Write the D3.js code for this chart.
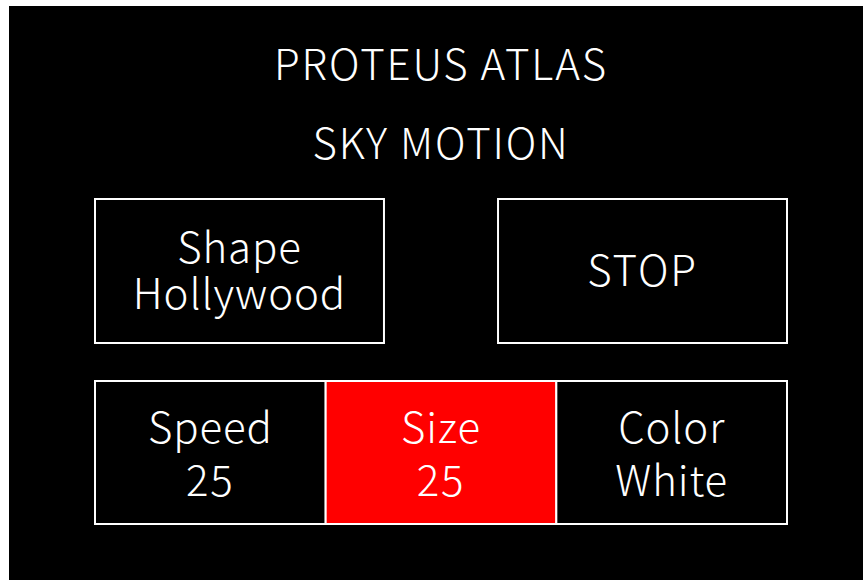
<!DOCTYPE html>
<html>
<head>
<meta charset="utf-8">
<script src="https://cdn.jsdelivr.net/npm/d3@7"></script>
<style>
  html, body { margin: 0; padding: 0; background: #fff; }
  svg text { font-family: "Noto Sans CJK JP", "Noto Sans", sans-serif; font-weight: 300; fill: #fff; }
</style>
</head>
<body>
<div id="screen"></div>
<script>
// screen content
var titles = ["PROTEUS ATLAS", "SKY MOTION"];
var topButtons = [
  { id: "shape", lines: ["Shape", "Hollywood"] },
  { id: "stop", lines: ["STOP"] }
];
var bottomCells = [
  { id: "speed", lines: ["Speed", "25"], active: false },
  { id: "size", lines: ["Size", "25"], active: true },
  { id: "color", lines: ["Color", "White"], active: false }
];

var W = 863, H = 580;
var fontSize = 42;

// caps look a bit wider on the device font
function spacing(t) {
  return t === t.toUpperCase() ? 1.8 : 0.9;
}

// one <text> per button, one <tspan> per line
function addLabel(g, lines, cx, firstY, lh) {
  var txt = g.append("text")
    .attr("text-anchor", "middle")
    .attr("font-size", fontSize);
  lines.forEach(function (t, i) {
    txt.append("tspan")
      .attr("x", cx)
      .attr("y", firstY + i * lh)
      .attr("letter-spacing", spacing(t))
      .text(t);
  });
}

var svg = d3.select("#screen")
  .append("svg")
  .attr("width", W)
  .attr("height", H);

// black panel
svg.append("rect")
  .attr("x", 9)
  .attr("y", 6)
  .attr("width", W - 9)
  .attr("height", H - 6)
  .attr("fill", "#000");

// titles
var yTitle = d3.scalePoint().domain(titles).range([80, 159]);
svg.selectAll("text.title")
  .data(titles)
  .join("text")
  .attr("class", "title")
  .attr("x", 441)
  .attr("y", d => yTitle(d))
  .attr("text-anchor", "middle")
  .attr("font-size", fontSize)
  .attr("letter-spacing", d => spacing(d))
  .text(d => d);

// top buttons
var xTop = d3.scaleBand()
  .domain(topButtons.map(d => d.id))
  .range([95, 787])
  .paddingInner(0.283);

var topG = svg.selectAll("g.top")
  .data(topButtons)
  .join("g")
  .attr("class", "top")
  .attr("transform", d => "translate(" + xTop(d.id) + ",199)");

topG.append("rect")
  .attr("width", xTop.bandwidth())
  .attr("height", 144)
  .attr("fill", "#000")
  .attr("stroke", "#fff")
  .attr("stroke-width", 2);

topG.each(function (d) {
  var n = d.lines.length;
  var lh = 46;
  addLabel(d3.select(this), d.lines, xTop.bandwidth() / 2, 87 - (n - 1) * lh / 2, lh);
});

// bottom cells
var xBot = d3.scaleBand()
  .domain(bottomCells.map(d => d.id))
  .range([95, 787])
  .padding(0);

var botG = svg.selectAll("g.bot")
  .data(bottomCells)
  .join("g")
  .attr("class", "bot")
  .attr("transform", d => "translate(" + xBot(d.id) + ",381)");

botG.append("rect")
  .attr("width", xBot.bandwidth())
  .attr("height", 143)
  .attr("fill", d => d.active ? "#ff0000" : "#000")
  .attr("stroke", "#fff")
  .attr("stroke-width", 2);

botG.each(function (d) {
  addLabel(d3.select(this), d.lines, xBot.bandwidth() / 2, 62, 53);
});
</script>
</body>
</html>
